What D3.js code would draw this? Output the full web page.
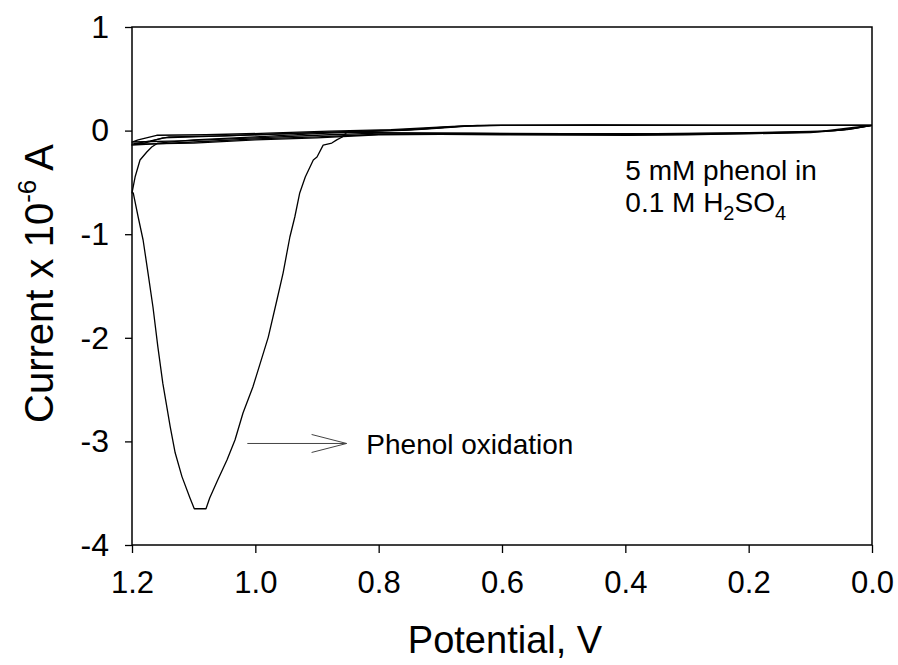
<!DOCTYPE html>
<html>
<head>
<meta charset="UTF-8">
<title>Phenol CV</title>
<script src="https://d3js.org/d3.v7.min.js"></script>
<style>
body { margin: 0; background: #fff; }
svg text { font-family: "Liberation Sans", Arial, sans-serif; fill: #000; }
</style>
</head>
<body>
<div id="chart"></div>
<script>

// tick values
const xTicks = [1.2, 1.0, 0.8, 0.6, 0.4, 0.2, 0.0];
const yTicks = [1, 0, -1, -2, -3, -4];

// cycle 1: scan with the phenol oxidation peak [potential V, current x1e-6 A]
const cycle1 = [
  [0.00, 0.05], [0.03, 0.02], [0.06, 0.00], [0.10, -0.01], [0.20, -0.025], [0.30, -0.03],
  [0.40, -0.035], [0.50, -0.035], [0.60, -0.03], [0.70, -0.025], [0.80, -0.02], [0.851, -0.014],
  [0.859, -0.062], [0.868, -0.09], [0.876, -0.12], [0.890, -0.14], [0.900, -0.255], [0.906, -0.284],
  [0.919, -0.448], [0.928, -0.602], [0.936, -0.834], [0.944, -1.027], [0.955, -1.375], [0.965, -1.635],
  [0.979, -1.993], [0.992, -2.245], [1.004, -2.475], [1.020, -2.726], [1.033, -2.986], [1.046, -3.18],
  [1.061, -3.373], [1.074, -3.546], [1.080, -3.65], [1.099, -3.65], [1.106, -3.546], [1.119, -3.34],
  [1.130, -3.11], [1.138, -2.86], [1.150, -2.44], [1.158, -2.09], [1.166, -1.703], [1.174, -1.375],
  [1.182, -1.056], [1.190, -0.834], [1.198, -0.602], [1.200, -0.60],
  [1.195, -0.448], [1.187, -0.284], [1.176, -0.207], [1.168, -0.159], [1.158, -0.12], [1.10, -0.09],
  [1.00, -0.06], [0.90, -0.03], [0.80, -0.005], [0.75, 0.005], [0.70, 0.025], [0.65, 0.045],
  [0.60, 0.05], [0.40, 0.05], [0.20, 0.05], [0.00, 0.05]
];

// cycles 2 to 4: later scans, no peak left
const cycle2 = [
  [0.00, 0.05], [0.04, 0.01], [0.10, -0.015], [0.20, -0.03], [0.30, -0.035], [0.40, -0.04],
  [0.50, -0.04], [0.60, -0.035], [0.70, -0.03], [0.80, -0.035], [0.90, -0.06], [1.00, -0.08],
  [1.10, -0.11], [1.17, -0.13], [1.20, -0.14],
  [1.18, -0.12], [1.15, -0.07], [1.10, -0.06], [1.00, -0.04], [0.90, -0.02], [0.80, 0.00],
  [0.72, 0.02], [0.66, 0.045], [0.60, 0.05], [0.40, 0.05], [0.20, 0.05], [0.00, 0.05]
];

const cycle3 = [
  [0.00, 0.05], [0.05, 0.005], [0.10, -0.02], [0.20, -0.03], [0.30, -0.04], [0.40, -0.045],
  [0.50, -0.04], [0.60, -0.04], [0.70, -0.035], [0.80, -0.04], [0.90, -0.07], [1.00, -0.09],
  [1.10, -0.12], [1.20, -0.13],
  [1.17, -0.10], [1.14, -0.06], [1.05, -0.05], [0.95, -0.03], [0.85, -0.01], [0.76, 0.005],
  [0.70, 0.03], [0.64, 0.05], [0.50, 0.05], [0.30, 0.05], [0.10, 0.05], [0.00, 0.05]
];

const cycle4 = [
  [0.00, 0.05], [0.03, 0.03], [0.08, -0.005], [0.20, -0.02], [0.35, -0.03], [0.50, -0.03],
  [0.65, -0.025], [0.80, -0.025], [0.88, -0.04], [1.00, -0.07], [1.12, -0.10], [1.20, -0.11],
  [1.19, -0.09], [1.16, -0.045], [1.08, -0.04], [0.98, -0.025], [0.88, -0.005], [0.78, 0.01],
  [0.68, 0.04], [0.62, 0.05], [0.45, 0.055], [0.25, 0.05], [0.00, 0.05]
];

const cycles = [cycle1, cycle2, cycle3, cycle4];

// annotations, placed in data units
const arrowFrom = [1.013, -3.02];
const arrowTo = [0.852, -3.02];

const margin = {top: 27, right: 26, bottom: 120, left: 132},
    width = 898 - margin.left - margin.right,
    height = 665 - margin.top - margin.bottom;

const svg = d3.select("#chart")
  .append("svg")
    .attr("width", 898)
    .attr("height", 665)
  .append("g")
    .attr("transform", `translate(${margin.left},${margin.top})`);

const x = d3.scaleLinear().domain([1.2, 0]).range([0, width]);
const y = d3.scaleLinear().domain([-4, 1]).range([height, 0]);

// frame
svg.append("rect")
  .attr("width", width)
  .attr("height", height)
  .attr("fill", "none")
  .attr("stroke", "#000")
  .attr("stroke-width", 1.5);

// X axis
const xAxis = svg.append("g")
  .attr("transform", `translate(0,${height})`)
  .call(d3.axisBottom(x).tickValues(xTicks).tickFormat(d3.format(".1f")).tickSize(8).tickPadding(18));
xAxis.select(".domain").remove();
xAxis.selectAll("line").attr("stroke-width", 1.3);
xAxis.selectAll("text")
  .attr("font-size", "31px")
  .attr("font-family", "Liberation Sans, Arial, sans-serif");

// Y axis
const yAxis = svg.append("g")
  .call(d3.axisLeft(y).tickValues(yTicks).tickFormat(d => d < 0 ? "-" + Math.abs(d) : d).tickSize(7).tickPadding(16));
yAxis.select(".domain").remove();
yAxis.selectAll("line").attr("stroke-width", 1.3);
yAxis.selectAll("text")
  .attr("font-size", "32px")
  .attr("font-family", "Liberation Sans, Arial, sans-serif");

// the scans
const line = d3.line()
  .x(d => x(d[0]))
  .y(d => y(d[1]));

svg.selectAll("path.scan")
  .data(cycles)
  .enter().append("path")
    .attr("class", "scan")
    .attr("fill", "none")
    .attr("stroke", "#000")
    .attr("stroke-width", 1.3)
    .attr("stroke-linejoin", "round")
    .attr("d", line);

// arrow for the peak label
const ax0 = x(arrowFrom[0]), ax1 = x(arrowTo[0]), ay = y(arrowFrom[1]);
svg.append("path")
  .attr("fill", "none")
  .attr("stroke", "#444")
  .attr("stroke-width", 1)
  .attr("d", `M${ax0},${ay}H${ax1}M${ax1 - 35},${ay - 9}L${ax1},${ay}L${ax1 - 35},${ay + 9}`);

svg.append("text")
  .attr("x", x(0.82))
  .attr("y", y(-3.02) + 11)
  .attr("font-size", "28px")
  .text("Phenol oxidation");

// solution label
const note = svg.append("text")
  .attr("font-size", "28px");
note.append("tspan").attr("x", x(0.40)).attr("y", y(-0.48)).text("5 mM phenol in");
note.append("tspan").attr("x", x(0.40)).attr("y", y(-0.79)).text("0.1 M H");
note.append("tspan").attr("dy", 8).attr("font-size", "20px").text("2");
note.append("tspan").attr("dy", -8).text("SO");
note.append("tspan").attr("dy", 8).attr("font-size", "20px").text("4");

// axis titles
svg.append("text")
  .attr("x", width / 2 + 3)
  .attr("y", height + 108)
  .attr("text-anchor", "middle")
  .attr("font-size", "38px")
  .text("Potential, V");

const yt = svg.append("text")
  .attr("transform", `translate(${-79},${y(-1.476)}) rotate(-90)`)
  .attr("text-anchor", "middle")
  .attr("font-size", "40px");
yt.append("tspan").text("Current x 10");
yt.append("tspan").attr("dy", -17).attr("font-size", "26px").text("-6");
yt.append("tspan").attr("dy", 17).text(" A");

</script>
</body>
</html>
